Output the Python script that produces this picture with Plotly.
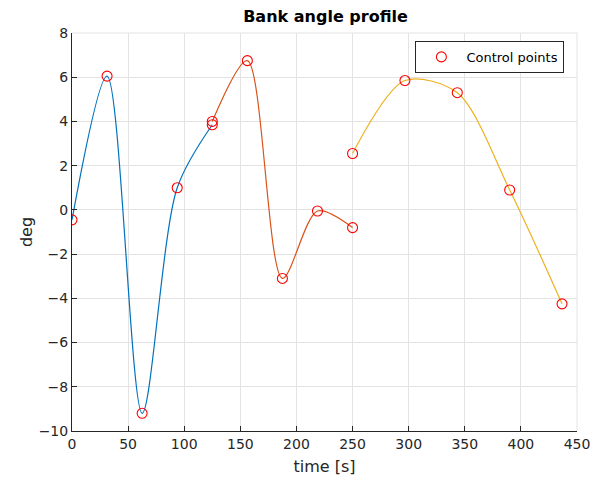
import plotly.graph_objects as go

# Control points for the three bank-angle segments (time in s, angle in deg)
t_seg1 = [0, 31.25, 62.5, 93.75, 125]
phi_seg1 = [-0.45, 6.05, -9.2, 1.0, 3.85]

t_seg2 = [125, 156.25, 187.5, 218.75, 250]
phi_seg2 = [4.0, 6.75, -3.1, -0.05, -0.8]

t_seg3 = [250, 296.67, 343.33, 390, 436.67]
phi_seg3 = [2.55, 5.85, 5.3, 0.9, -4.25]

seg_colors = ["#0072BD", "#D95319", "#EDB120"]

x_ticks = list(range(0, 451, 50))
y_ticks = list(range(-10, 9, 2))

FONT = "DejaVu Sans"

fig = go.Figure()

for t, phi, c in zip([t_seg1, t_seg2, t_seg3], [phi_seg1, phi_seg2, phi_seg3], seg_colors):
    fig.add_trace(go.Scatter(
        x=t, y=phi, mode="lines",
        line=dict(color=c, width=1.2, shape="spline", smoothing=0.85),
        showlegend=False, hoverinfo="skip",
    ))

# All control points as one marker series
fig.add_trace(go.Scatter(
    x=t_seg1 + t_seg2 + t_seg3,
    y=phi_seg1 + phi_seg2 + phi_seg3,
    mode="markers",
    marker=dict(symbol="circle-open", size=10, color="#FF0000", line=dict(width=1.1)),
    name="Control points",
))

axis_common = dict(
    showgrid=True, gridcolor="#E3E3E3", gridwidth=1,
    zeroline=False, automargin=False,
    showline=True, linecolor="#262626", linewidth=1,
    ticks="inside", ticklen=5, tickcolor="#262626",
    tickfont=dict(family=FONT, size=14, color="#262626"),
)

fig.update_xaxes(
    range=[0, 450], tickvals=x_ticks,
    title=dict(text="time [s]", font=dict(family=FONT, size=16, color="#262626"), standoff=10),
    **axis_common,
)
fig.update_yaxes(
    range=[-10, 8], tickvals=y_ticks,
    title=dict(text="deg", font=dict(family=FONT, size=16, color="#262626"), standoff=2),
    **axis_common,
)

# Light box along the top and right edges of the plot area
fig.add_shape(type="line", xref="paper", yref="paper", x0=0, x1=1, y0=1, y1=1,
              line=dict(color="#E3E3E3", width=1))
fig.add_shape(type="line", xref="paper", yref="paper", x0=1, x1=1, y0=0, y1=1,
              line=dict(color="#E3E3E3", width=1))

fig.update_layout(
    width=594, height=480,
    margin=dict(l=72, r=17, t=33, b=49),
    paper_bgcolor="white", plot_bgcolor="white",
    title=dict(text="<b>Bank angle profile</b>", x=0.548, xanchor="center",
               y=0.965, yanchor="middle",
               font=dict(family=FONT, size=16, color="black")),
    legend=dict(
        x=0.975, y=0.98, xanchor="right", yanchor="top",
        bordercolor="#262626", borderwidth=1, bgcolor="white",
        font=dict(family=FONT, size=13, color="black"),
        itemwidth=40, tracegroupgap=0,
    ),
    font=dict(family=FONT),
)

fig.write_html("out.html")
